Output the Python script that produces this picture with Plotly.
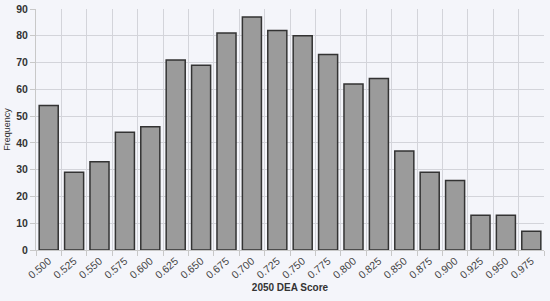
import plotly.graph_objects as go

categories = ["0.500", "0.525", "0.550", "0.575", "0.600", "0.625", "0.650", "0.675",
              "0.700", "0.725", "0.750", "0.775", "0.800", "0.825", "0.850", "0.875",
              "0.900", "0.925", "0.950", "0.975"]
frequency = [54, 29, 33, 44, 46, 71, 69, 81, 87, 82, 80, 73, 62, 64, 37, 29, 26, 13, 13, 7]
y_ticks = [0, 10, 20, 30, 40, 50, 60, 70, 80, 90]

bg = "#f4f5fa"
grid = "#d3d4da"

fig = go.Figure(go.Bar(
    x=categories, y=frequency,
    marker=dict(color="#9b9b9b", line=dict(color="#333333", width=1.5)),
))

fig.update_layout(
    width=550, height=301,
    margin=dict(l=36, r=6, t=9, b=51),
    paper_bgcolor=bg, plot_bgcolor=bg,
    bargap=0.25,
    showlegend=False,
    font=dict(family="Liberation Sans, Arial, sans-serif", color="#333333"),
)
fig.update_xaxes(
    type="category", tickson="boundaries",
    showgrid=True, gridcolor=grid, gridwidth=1,
    ticks="outside", ticklen=5, tickcolor="#c8c8c8",
    showline=True, linecolor="#c8c8c8", linewidth=1,
    tickangle=-40, tickfont=dict(size=10.5, color="#444444"),
    title=dict(text="<b>2050 DEA Score</b>", font=dict(size=10, color="#333333"), standoff=4),
    automargin=False,
)
fig.update_yaxes(
    range=[0, 90], tickvals=y_ticks,
    showgrid=True, gridcolor=grid, gridwidth=1,
    ticks="outside", ticklen=5, tickcolor="#c8c8c8",
    showline=True, linecolor="#c8c8c8", linewidth=1,
    tickfont=dict(size=10.5, color="#333333", weight="bold"),
    title=dict(text="Frequency", font=dict(size=9, color="#333333"), standoff=4),
    zeroline=False, automargin=False,
)

fig.write_html(
    "out.html",
    config={"displayModeBar": False},
    post_script="document.body.style.margin='0';document.body.style.background='#f4f5fa';",
)
